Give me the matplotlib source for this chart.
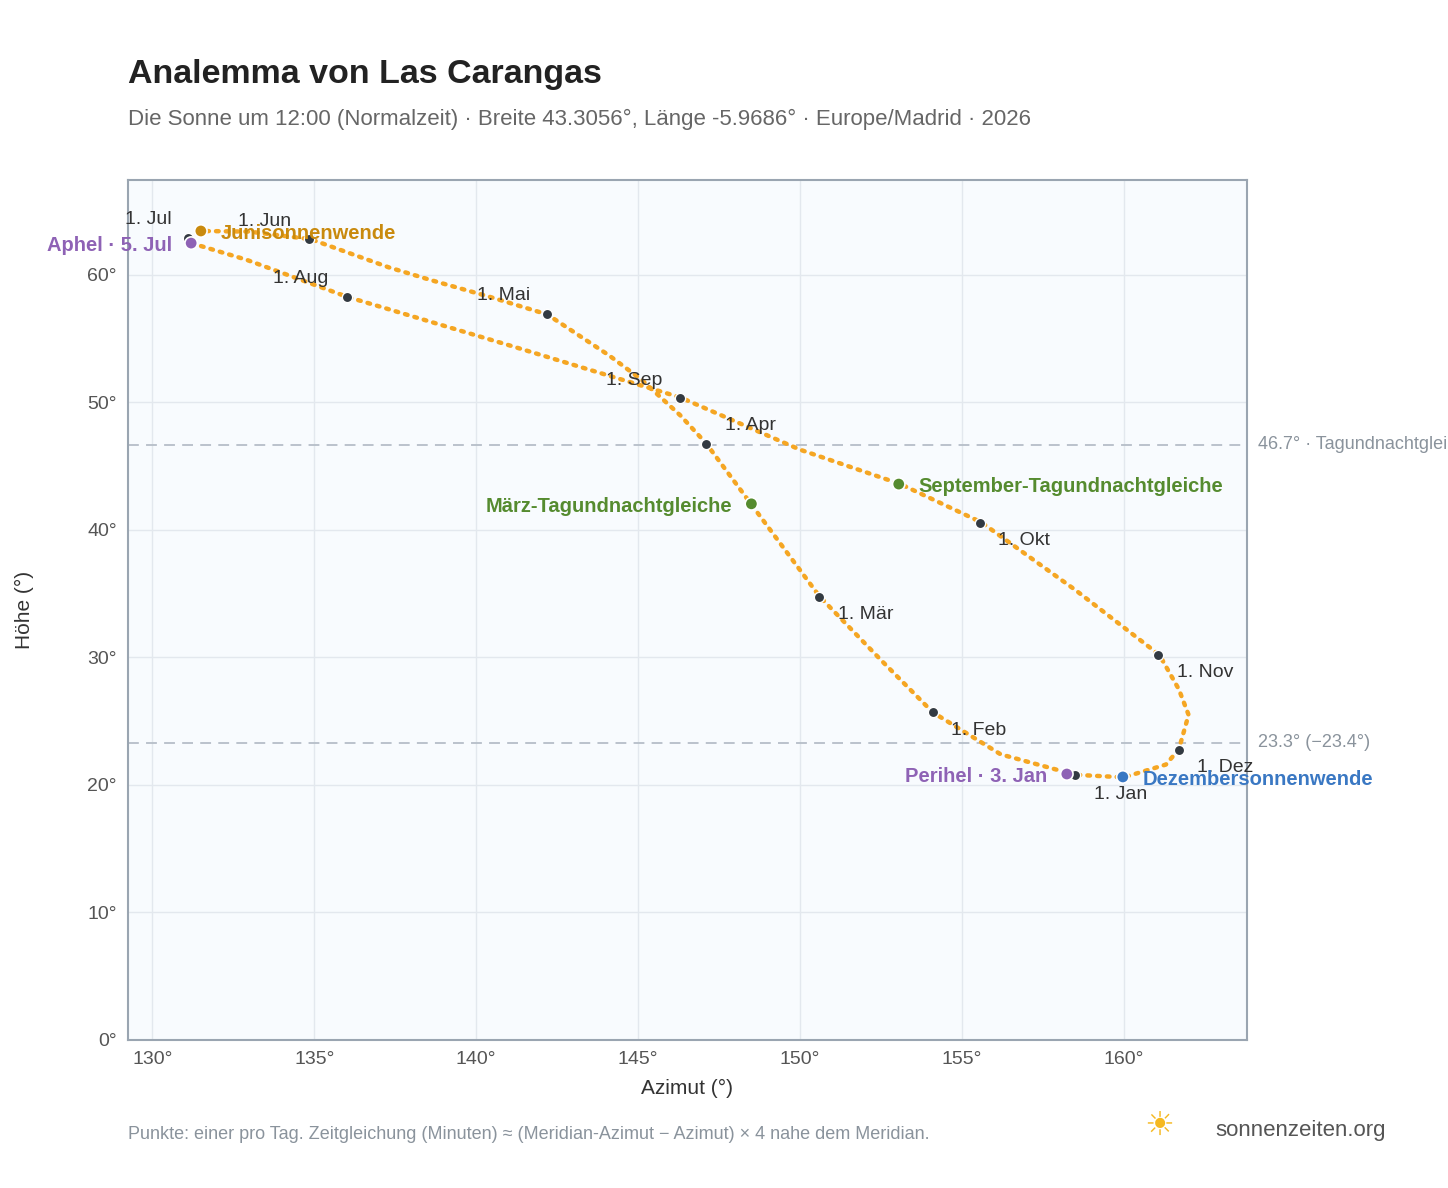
import numpy as np
import matplotlib
matplotlib.use("Agg")
import matplotlib.pyplot as plt

plt.rcParams["font.family"] = ["Liberation Sans", "DejaVu Sans"]

# path of the sun at 12:00 (azimuth, altitude), Jan 1 -> Dec 31
path_az = [158.5, 156.2, 154.1, 152.5, 150.6, 149.2, 148.5, 147.1, 146.3, 145.1, 144.1,
           142.2, 140.4, 138.6, 137.3, 134.9, 133.0, 131.5, 131.1, 131.2, 132.9, 136.0,
           141.0, 146.3, 150.0, 153.1, 155.6, 158.5, 161.1, 161.7, 162.0, 161.7, 161.3,
           160.0, 158.5]
path_alt = [20.8, 22.4, 25.7, 29.8, 34.8, 39.6, 42.0, 46.8, 49.0, 51.8, 53.7,
            56.9, 58.3, 59.6, 60.6, 62.8, 63.4, 63.45, 62.9, 62.5, 61.2, 58.3,
            54.5, 50.4, 46.3, 43.6, 40.6, 35.3, 30.2, 27.5, 25.5, 22.8, 21.6,
            20.6, 20.8]

month_labels = ["1. Jan", "1. Feb", "1. Mär", "1. Apr", "1. Mai", "1. Jun",
                "1. Jul", "1. Aug", "1. Sep", "1. Okt", "1. Nov", "1. Dez"]
month_az = [158.5, 154.1, 150.6, 147.1, 142.2, 134.85, 131.1, 136.0, 146.3, 155.55, 161.05, 161.7]
month_alt = [20.8, 25.7, 34.75, 46.75, 56.9, 62.8, 62.9, 58.3, 50.35, 40.55, 30.2, 22.75]
month_off = [(45, -20), (46, -18), (46, -18), (44, 18), (-44, 19), (-45, 18),
             (-40, 18), (-46, 18), (-46, 18), (44, -18), (47, -18), (46, -18)]

events = ["Junisonnenwende", "Aphel · 5. Jul", "März-Tagundnachtgleiche",
          "September-Tagundnachtgleiche", "Dezembersonnenwende", "Perihel · 3. Jan"]
event_az = [131.5, 131.2, 148.5, 153.05, 159.97, 158.24]
event_alt = [63.45, 62.5, 42.05, 43.6, 20.63, 20.86]
event_col = ["#c98a0e", "#8e62b5", "#558b2f", "#558b2f", "#3a78c3", "#8e62b5"]
event_side = ["r", "l", "l", "r", "r", "l"]

ref_lines = [46.7, 23.3]
ref_labels = ["46.7° · Tagundnachtgleiche", "23.3° (−23.4°)"]

fig = plt.figure(figsize=(14.48, 11.88), dpi=100)
ax = fig.add_axes([0.0884, 0.1246, 0.7727, 0.7239])
ax.set_facecolor("#f8fbfe")
ax.set_xlim(129.25, 163.8)
ax.set_ylim(0, 67.45)
ax.grid(color="#e3e8ee", lw=1)
ax.set_axisbelow(True)
for s in ax.spines.values():
    s.set_color("#9aa5b1")
    s.set_linewidth(1.5)

ax.set_xticks(range(130, 161, 5))
ax.set_xticklabels([f"{v}°" for v in range(130, 161, 5)])
ax.set_yticks(range(0, 61, 10))
ax.set_yticklabels([f"{v}°" for v in range(0, 61, 10)])
ax.tick_params(colors="#555555", labelsize=14, length=0, pad=8)
ax.set_xlabel("Azimut (°)", fontsize=15, color="#333333", labelpad=8)
ax.set_ylabel("Höhe (°)", fontsize=15, color="#333333", labelpad=38)

for y, lab in zip(ref_lines, ref_labels):
    ax.axhline(y, color="#b6bec8", lw=1.3, ls=(0, (6, 4)))
    ax.annotate(lab, (1.01, y), xycoords=("axes fraction", "data"), va="center",
                fontsize=13, color="#8a939c", annotation_clip=False)

ax.plot(path_az, path_alt, color="#f5a623", lw=3.2, ls=(0, (0.6, 1.6)),
        dash_capstyle="round", zorder=3)

ax.scatter(month_az, month_alt, s=55, color="#333a42", edgecolor="white", lw=1, zorder=5)
for lab, x, y, off in zip(month_labels, month_az, month_alt, month_off):
    ax.annotate(lab, (x, y), xytext=(off[0] * 0.72, off[1] * 0.72), textcoords="offset points",
                fontsize=14, color="#333333", ha="center", va="center", zorder=6)

ax.scatter(event_az, event_alt, s=80, color=event_col, edgecolor="white", lw=1.2, zorder=6)
for lab, x, y, c, side in zip(events, event_az, event_alt, event_col, event_side):
    dx = 14 if side == "r" else -14
    ax.annotate(lab, (x, y), xytext=(dx, -2), textcoords="offset points", fontsize=14.5,
                color=c, weight="bold", ha="left" if side == "r" else "right",
                va="center", zorder=7, annotation_clip=False)

fig.text(0.0884, 0.93, "Analemma von Las Carangas", fontsize=24.5, weight="bold", color="#222222")
fig.text(0.0884, 0.895, "Die Sonne um 12:00 (Normalzeit) · Breite 43.3056°, Länge -5.9686° · "
         "Europe/Madrid · 2026", fontsize=16, color="#666666")
fig.text(0.0884, 0.041, "Punkte: einer pro Tag. Zeitgleichung (Minuten) ≈ (Meridian-Azimut − Azimut)"
         " × 4 nahe dem Meridian.", fontsize=13, color="#8a939c")
fig.text(0.839, 0.044, "sonnenzeiten.org", fontsize=16, color="#555555")
fig.text(0.790, 0.044, "☀", fontsize=24, color="#f5b820", family="DejaVu Sans")

fig.savefig("out.png", dpi=100)
